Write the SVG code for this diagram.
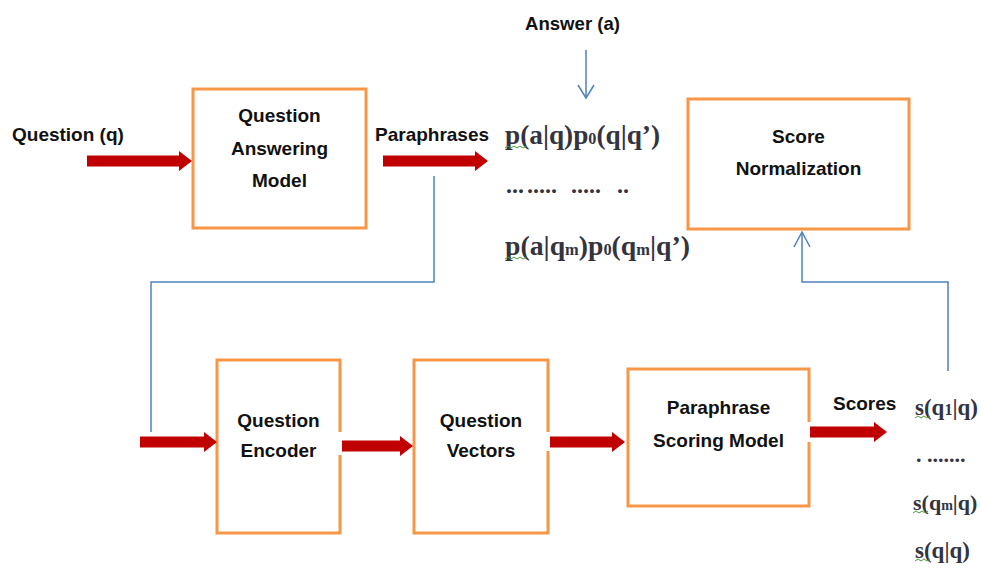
<svg xmlns="http://www.w3.org/2000/svg" width="981" height="571" viewBox="0 0 981 571">
<style>
.box{fill:#fff;stroke:#f79646;stroke-width:3}
.lbl{font-family:"Liberation Sans",Arial,sans-serif;font-weight:bold;font-size:19px;fill:#111}
.c{text-anchor:middle}
.math{font-family:"Liberation Serif","Times New Roman",serif;font-weight:bold;fill:#34343f}
.sub{font-size:16px}
.sub2{font-size:14px}
.blue{fill:none;stroke:#4f81bd;stroke-width:1.5}
.red{fill:#c00000}
.gap{fill:#fff}
.sq{fill:none;stroke:#4a9a3a;stroke-width:1}
</style>
<rect width="981" height="571" fill="#fff"/>

<g id="qa-model">
<rect class="box" x="193" y="89" width="173" height="139"/>
<text class="lbl c" x="279.5" y="122">Question</text>
<text class="lbl c" x="279.5" y="155">Answering</text>
<text class="lbl c" x="279.5" y="187">Model</text>
</g>

<g id="score-normalization">
<rect class="box" x="688" y="99" width="221" height="130"/>
<text class="lbl c" x="798.5" y="143">Score</text>
<text class="lbl c" x="798.5" y="175">Normalization</text>
</g>

<g id="question-encoder">
<rect class="box" x="217" y="360" width="123" height="173"/>
<text class="lbl c" x="278.5" y="427">Question</text>
<text class="lbl c" x="278.5" y="457">Encoder</text>
</g>

<g id="question-vectors">
<rect class="box" x="414" y="360" width="134" height="173"/>
<text class="lbl c" x="481" y="427">Question</text>
<text class="lbl c" x="481" y="457">Vectors</text>
</g>

<g id="paraphrase-scoring">
<rect class="box" x="628" y="369" width="181" height="137"/>
<text class="lbl c" x="718.5" y="414">Paraphrase</text>
<text class="lbl c" x="718.5" y="447">Scoring Model</text>
</g>

<g id="labels">
<text class="lbl" x="12" y="141">Question (q)</text>
<text class="lbl" x="375" y="141">Paraphrases</text>
<text class="lbl" x="525" y="30" textLength="95" lengthAdjust="spacingAndGlyphs">Answer (a)</text>
<text class="lbl" x="833" y="410">Scores</text>
</g>

<g id="paraphrase-probs">
<text class="math" font-size="27" x="505" y="144" textLength="155" lengthAdjust="spacingAndGlyphs">p(a|q)p<tspan class="sub">0</tspan>(q|q’)</text>
<text class="math" font-size="24" y="193"><tspan x="506">...</tspan><tspan x="527">.....</tspan><tspan x="571">.....</tspan><tspan x="617">..</tspan></text>
<text class="math" font-size="27" x="505" y="255" textLength="185" lengthAdjust="spacingAndGlyphs">p(a|q<tspan class="sub">m</tspan>)p<tspan class="sub">0</tspan>(q<tspan class="sub">m</tspan>|q’)</text>
<path class="sq" d="M505,148 l3,-2 l3,2 l3,-2 l3,2 l3,-2 l3,2 l3,-2"/>
<path class="sq" d="M505,259 l3,-2 l3,2 l3,-2 l3,2 l3,-2 l3,2 l3,-2"/>
</g>

<g id="scores">
<text class="math" font-size="23" x="915" y="415">s(q<tspan class="sub">1</tspan>|q)</text>
<text class="math" font-size="22" x="916" y="462">. .......</text>
<text class="math" font-size="22" x="913" y="510">s(q<tspan class="sub2">m</tspan>|q)</text>
<text class="math" font-size="23" x="915" y="558">s(q|q)</text>
<path class="sq" d="M915,418 l3,-2 l3,2 l3,-2 l3,2 l3,-2"/>
<path class="sq" d="M913,513 l3,-2 l3,2 l3,-2 l3,2 l3,-2"/>
<path class="sq" d="M915,561 l3,-2 l3,2 l3,-2 l3,2 l3,-2"/>
</g>

<g id="connectors">
<rect class="gap" x="337" y="432" width="6" height="23"/>
<rect class="gap" x="545" y="432" width="6" height="19"/>
<rect class="gap" x="806" y="422" width="6" height="20"/>
<polyline class="blue" points="434,176 434,282 151,282 151,432"/>
<polyline class="blue" points="948,371 948,282 802,282 802,232"/>
<polyline class="blue" points="794,247 802,232 810,247"/>
<line class="blue" x1="586" y1="50" x2="586" y2="98"/>
<polyline class="blue" points="578,85 586,98 594,85"/>
<polygon class="red" points="87,155.5 179,155.5 179,151 192,161 179,171 179,166.5 87,166.5"/>
<polygon class="red" points="383,155.5 475,155.5 475,151 488,161 475,171 475,166.5 383,166.5"/>
<polygon class="red" points="140,436.5 204,436.5 204,432 217,442 204,452 204,447.5 140,447.5"/>
<polygon class="red" points="342,440.5 400,440.5 400,436 413,446 400,456 400,451.5 342,451.5"/>
<polygon class="red" points="550,436.5 612,436.5 612,432 625,442 612,452 612,447.5 550,447.5"/>
<polygon class="red" points="810,426.5 874,426.5 874,422 887,432 874,442 874,437.5 810,437.5"/>
</g>
</svg>
